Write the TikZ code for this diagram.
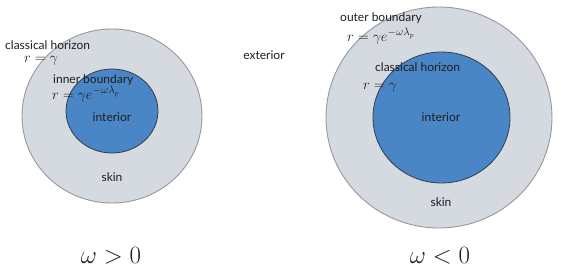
\documentclass[tikz,border=0pt]{standalone}
\usepackage{fontspec}
\setmainfont{Lato}
\definecolor{skinfill}{RGB}{213,217,224}
\definecolor{skinline}{RGB}{150,152,156}
\definecolor{corefill}{RGB}{74,134,197}
\definecolor{coreline}{RGB}{50,62,78}
\definecolor{txt}{RGB}{30,30,30}
\tikzset{
  skin/.style={fill=skinfill,draw=skinline,line width=0.9pt},
  core/.style={fill=corefill,draw=coreline,line width=0.8pt},
  lbl/.style={inner sep=0pt,text=txt,font=\fontsize{12}{14}\selectfont},
  eq/.style={inner sep=0pt,text=txt,font=\fontsize{15}{18}\selectfont},
  big/.style={inner sep=0pt,text=txt,font=\fontsize{25}{30}\selectfont}
}
\begin{document}
\begin{tikzpicture}[x=1pt,y=-1pt]
\useasboundingbox (0,0) rectangle (561,275);
% left diagram
\draw[skin] (112,116) ellipse [x radius=90, y radius=87];
\draw[core] (112,111) ellipse [x radius=46, y radius=42];
\node[lbl,anchor=west] (lch) at (5,45) {classical horizon};
\node[eq,anchor=west] (lreq) at (24,61) {$r=\gamma$};
\node[lbl,anchor=west] (lib) at (53,80) {inner boundary};
\node[eq,anchor=west] (lieq) at (52,94) {$r=\gamma e^{-\omega\lambda_p}$};
\node[lbl] (lint) at (112,117) {interior};
\node[lbl] (lskin) at (112,177) {skin};
\node[big] (lom) at (111,256) {$\omega>0$};
% exterior
\node[lbl] (ext) at (264,55) {exterior};
% right diagram
\draw[skin] (439,117.5) ellipse [x radius=113, y radius=110.5];
\draw[core] (441.5,117.5) ellipse [x radius=68.5, y radius=65.5];
\node[lbl,anchor=west] (rob) at (340,18) {outer boundary};
\node[eq,anchor=west] (roeq) at (347,36) {$r=\gamma e^{-\omega\lambda_p}$};
\node[lbl,anchor=west] (rch) at (375,67) {classical horizon};
\node[eq,anchor=west] (rreq) at (363,88) {$r=\gamma$};
\node[lbl] (rint) at (441,117) {interior};
\node[lbl] (rskin) at (441,202) {skin};
\node[big] (rom) at (440,256) {$\omega<0$};
\end{tikzpicture}
\end{document}
